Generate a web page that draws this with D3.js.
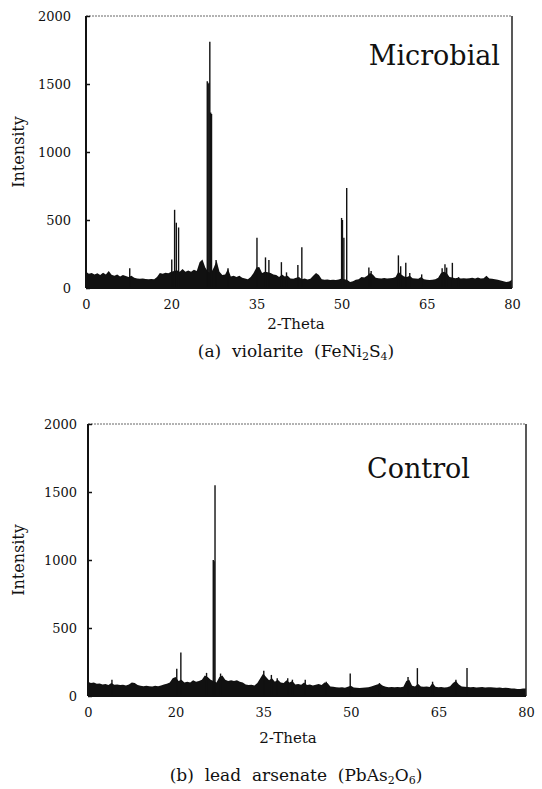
<!DOCTYPE html>
<html>
<head>
<meta charset="utf-8">
<title>XRD patterns</title>
<script src="https://d3js.org/d3.v7.min.js"></script>
<style>
  body { margin: 0; background: #fff; }
  svg { display: block; font-family: "DejaVu Serif", serif; }
</style>
</head>
<body>
<div id="wrapper"></div>
<script>
// 2-theta grid of the background trace
const THETA_START = 5;
const THETA_STEP = 0.5;

const xTickValues = [5, 20, 35, 50, 65, 80];
const xTickLabels = ["0", "20", "35", "50", "65", "80"];
const yTickValues = [0, 500, 1000, 1500, 2000];

// upper edge of the noisy background, every 0.5 deg from 5 to 80
const microbialBase = [
  120,105,110,100,108,95,112,100,125,98,
  90,100,85,95,88,80,90,75,70,68,
  70,66,65,66,65,80,110,105,112,108,
  120,125,130,120,140,120,128,120,135,125,
  190,210,150,120,110,150,200,120,95,100,
  140,85,90,80,90,75,70,65,80,110,
  150,155,110,120,115,110,100,95,80,100,
  85,90,70,68,75,80,65,70,62,68,
  90,110,95,65,60,62,58,60,58,62,
  70,65,58,45,50,60,65,80,78,90,
  110,100,75,72,70,74,70,72,74,80,
  120,100,85,80,90,72,70,68,80,65,
  60,58,60,65,75,110,120,110,80,78,
  72,75,70,72,70,72,75,70,78,70,
  72,90,70,68,65,60,55,50,45,48,
  60
];

// [2-theta, intensity]
const microbialPeaks = [
  [12.7,145],[20.1,210],[20.6,575],[20.9,480],[21.3,445],
  [26.35,1520],[26.5,1500],[26.65,1510],[26.8,1810],[26.95,1290],[27.1,1280],
  [27.9,205],[30.0,145],[35.1,370],[36.6,225],[37.2,205],[39.4,190],[40.3,115],
  [42.3,170],[43.0,300],[50.0,515],[50.15,500],[50.4,370],[50.9,735],
  [54.8,150],[55.2,125],[60.0,240],[60.4,160],[61.3,185],[62.0,110],[64.1,100],
  [67.7,145],[68.2,175],[68.5,150],[69.5,185],[70.6,80]
];

const controlBase = [
  105,95,100,90,92,85,88,80,95,82,
  85,80,82,78,85,100,95,80,75,72,
  75,72,70,75,72,78,85,90,100,130,
  140,110,120,100,105,100,115,105,110,120,
  150,140,120,110,100,140,150,120,110,115,
  110,115,105,100,85,80,82,78,95,130,
  165,140,115,130,105,120,100,95,115,100,
  110,85,88,82,100,80,85,78,82,88,
  80,100,95,70,68,65,62,65,60,68,
  75,62,60,58,60,62,65,70,78,85,
  90,75,68,65,66,64,66,65,68,110,
  120,75,70,90,70,68,70,66,95,68,
  65,66,62,65,72,95,110,85,70,68,
  66,65,66,62,64,66,62,65,64,62,
  60,62,58,60,58,56,55,52,52,55,
  55
];

const controlPeaks = [
  [9.1,120],[20.2,200],[20.9,320],[25.3,170],
  [26.45,1000],[26.6,990],[26.75,1550],[27.7,165],
  [35.1,185],[36.4,155],[37.4,130],[39.2,130],[40.0,120],[42.2,120],[45.8,105],
  [49.9,165],[54.9,95],[59.8,140],[61.4,205],[64.0,105],[68.0,120],[69.9,205]
];

const dimensions = { width: 542, height: 789 };

const svg = d3.select("#wrapper").append("svg")
  .attr("width", dimensions.width)
  .attr("height", dimensions.height);

function drawPanel(p) {
  const xScale = d3.scaleLinear().domain([5, 80]).range([p.left, p.right]);
  const yScale = d3.scaleLinear().domain([0, 2000]).range([p.bottom, p.top]);

  const g = svg.append("g");

  const pts = p.base.map((v, i) => ({ t: THETA_START + i * THETA_STEP, v: v }));
  const area = d3.area()
    .x(d => xScale(d.t))
    .y0(yScale(0))
    .y1(d => yScale(d.v));
  g.append("path").attr("d", area(pts)).attr("fill", "#111");

  g.selectAll(".peak").data(p.peaks).join("line")
    .attr("class", "peak")
    .attr("x1", d => xScale(d[0])).attr("x2", d => xScale(d[0]))
    .attr("y1", yScale(0)).attr("y2", d => yScale(d[1]))
    .attr("stroke", "#111").attr("stroke-width", 1.4);

  // frame
  g.append("line").attr("x1", p.left).attr("x2", p.right)
    .attr("y1", p.top).attr("y2", p.top)
    .attr("stroke", "#666").attr("stroke-width", 1).attr("stroke-dasharray", "2,1");
  g.append("line").attr("x1", p.right).attr("x2", p.right)
    .attr("y1", p.top).attr("y2", p.bottom)
    .attr("stroke", "#222").attr("stroke-width", 1.5);
  g.append("line").attr("x1", p.left).attr("x2", p.left)
    .attr("y1", p.top).attr("y2", p.bottom)
    .attr("stroke", "#111").attr("stroke-width", 2);
  g.append("line").attr("x1", p.left).attr("x2", p.right)
    .attr("y1", p.bottom).attr("y2", p.bottom)
    .attr("stroke", "#111").attr("stroke-width", 2);

  const yAxis = g.append("g")
    .attr("transform", `translate(${p.left},0)`)
    .call(d3.axisLeft(yScale).tickValues(yTickValues).tickFormat(d3.format("d"))
      .tickSize(-4).tickPadding(p.yPad));
  yAxis.select(".domain").remove();
  yAxis.selectAll("text").attr("font-size", 13).attr("font-family", "DejaVu Serif").attr("fill", "#111");
  yAxis.selectAll("line").attr("stroke", "#111").attr("stroke-width", 1.5);

  const xAxis = g.append("g")
    .attr("transform", `translate(0,${p.bottom})`)
    .call(d3.axisBottom(xScale).tickValues(xTickValues)
      .tickFormat((d, i) => xTickLabels[i]).tickSize(0).tickPadding(p.xPad));
  xAxis.select(".domain").remove();
  xAxis.selectAll("text").attr("font-size", 13).attr("font-family", "DejaVu Serif").attr("fill", "#111");

  g.append("text")
    .attr("transform", `translate(${p.yLabelX},${(p.top + p.bottom) / 2}) rotate(-90)`)
    .attr("text-anchor", "middle")
    .attr("dy", "0.35em")
    .attr("font-size", 16).attr("fill", "#111")
    .text("Intensity");

  g.append("text")
    .attr("x", p.xLabelX).attr("y", p.xLabelY)
    .attr("text-anchor", "middle")
    .attr("font-size", 15).attr("fill", "#111")
    .text("2-Theta");

  g.append("text")
    .attr("x", p.tagX).attr("y", p.tagY)
    .attr("text-anchor", "end")
    .attr("font-size", 27).attr("fill", "#111")
    .text(p.tag);

  const cap = g.append("text")
    .attr("x", p.capX).attr("y", p.capY)
    .attr("text-anchor", "middle")
    .attr("font-size", 17).attr("fill", "#111")
    .attr("xml:space", "preserve");
  p.caption.forEach(part => {
    const ts = cap.append("tspan").text(part[0]);
    if (part[1]) ts.attr("font-size", 11).attr("dy", 3);
    else if (part[2]) ts.attr("dy", -3);
  });
}

drawPanel({
  left: 86, right: 512, top: 16, bottom: 288,
  base: microbialBase, peaks: microbialPeaks,
  yPad: 15, xPad: 12,
  yLabelX: 18, xLabelX: 296, xLabelY: 329,
  tag: "Microbial", tagX: 500, tagY: 65,
  capX: 296, capY: 357,
  caption: [["(a)  violarite  (FeNi"], ["2", true], ["S", false, true], ["4", true], [")", false, true]]
});

drawPanel({
  left: 88, right: 526, top: 424, bottom: 696,
  base: controlBase, peaks: controlPeaks,
  yPad: 11, xPad: 12,
  yLabelX: 18, xLabelX: 288, xLabelY: 743,
  tag: "Control", tagX: 470, tagY: 478,
  capX: 296, capY: 781,
  caption: [["(b)  lead  arsenate  (PbAs"], ["2", true], ["O", false, true], ["6", true], [")", false, true]]
});
</script>
</body>
</html>
